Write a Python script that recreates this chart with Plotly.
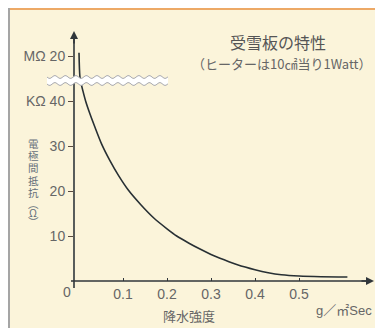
import plotly.graph_objects as go
import numpy as np

# ---------------- data ----------------
# x: precipitation intensity (g/m^2 Sec)
rain_intensity = [0.0, 0.002, 0.005, 0.009, 0.015, 0.025, 0.035, 0.052, 0.07,
                  0.09, 0.112, 0.14, 0.17, 0.20, 0.222, 0.25, 0.275, 0.30,
                  0.33, 0.36, 0.40, 0.43, 0.46, 0.50, 0.55, 0.61]
# y: electrode resistance on the broken axis (values above the break belong to
#    the MΩ part, where 50 corresponds to 20 MΩ; below the break values are kΩ)
resistance_disp = [50.7, 45.5, 43.8, 42.2, 40.0, 37.1, 34.5, 30.3, 26.8,
                   23.4, 20.2, 17.0, 14.0, 11.6, 10.0, 8.4, 7.1, 5.9,
                   4.7, 3.6, 2.5, 1.85, 1.4, 1.1, 0.95, 0.9]

y_tickvals = [10, 20, 30, 40, 50]
y_ticktext = ["10", "20", "30", "K\u03a9\u00a040", "M\u03a9\u00a020"]
x_tickvals = [0.1, 0.2, 0.3, 0.4, 0.5]
x_ticktext = ["0.1", "0.2", "0.3", "0.4", "0.5"]

title_text = "受雪板の特性"
subtitle_text = "（ヒーターは10㎠当り1Watt）"
ytitle_chars = ["電", "極", "間", "抵", "抗", "︵", "Ω", "︶"]
xtitle_text = "降水強度"
xunit_text = "g／㎡Sec"

# ---------------- layout geometry ----------------
# the page body has an 8px margin; the figure therefore starts at (8, 8)
OFF = 8
W, H = 383 - OFF, 328 - OFF
AXIS_X, AXIS_Y, TOP_Y, RIGHT_X = 74, 281, 32, 375
L, T = AXIS_X - OFF, TOP_Y - OFF
R = W - (RIGHT_X - OFF)
B = H - (AXIS_Y - OFF)
PW, PH = W - L - R, H - T - B


def px(xp):
    """reference-image x pixel -> paper coordinate"""
    return (xp - OFF - L) / PW


def py(yp):
    """reference-image y pixel -> paper coordinate"""
    return (AXIS_Y - yp) / PH


FONT = "Liberation Sans, Arial, Noto Sans CJK JP, sans-serif"
CJK = "Noto Sans CJK JP, sans-serif"
AX = "#30363a"
TXT = "#666666"
PANEL = "#FBF4DA"

fig = go.Figure()
fig.add_trace(go.Scatter(
    x=rain_intensity, y=resistance_disp, mode="lines",
    line=dict(color="#283034", width=1.6, shape="spline", smoothing=0.8),
    hoverinfo="skip", showlegend=False))

shapes = []
# panel borders
shapes.append(dict(type="line", xref="paper", yref="paper",
                   x0=px(8), x1=px(384), y0=py(9), y1=py(9),
                   line=dict(color="#EDA966", width=2)))
shapes.append(dict(type="line", xref="paper", yref="paper",
                   x0=px(9), x1=px(9), y0=py(8), y1=py(329),
                   line=dict(color="#a5a5a5", width=2)))
# axis lines
shapes.append(dict(type="line", xref="paper", yref="paper",
                   x0=px(74), x1=px(74), y0=py(288), y1=py(36),
                   line=dict(color=AX, width=1.6)))
shapes.append(dict(type="line", xref="paper", yref="paper",
                   x0=px(71), x1=px(370), y0=py(281), y1=py(281),
                   line=dict(color=AX, width=1.6)))

# wavy axis-break band (decoration)
xs = np.linspace(47, 168, 122)
top = 77 + 1.4 * np.sin(2 * np.pi * (xs - 47) / 10.5)
bot = 84 + 1.4 * np.sin(2 * np.pi * (xs - 47) / 10.5)
band = "M " + " L ".join(f"{px(a):.5f},{py(b):.5f}" for a, b in zip(xs, top))
band += " L " + " L ".join(f"{px(a):.5f},{py(b):.5f}" for a, b in zip(xs[::-1], bot[::-1])) + " Z"
shapes.append(dict(type="path", xref="paper", yref="paper", path=band,
                   fillcolor="#FFFFFF", line=dict(width=0)))
for edge in (top, bot):
    p = "M " + " L ".join(f"{px(a):.5f},{py(b):.5f}" for a, b in zip(xs, edge))
    shapes.append(dict(type="path", xref="paper", yref="paper", path=p,
                       line=dict(color="#a9aab0", width=1)))


def label(x, y, text, size, color=TXT, family=CJK):
    return dict(xref="paper", yref="paper", x=px(x), y=py(y), text=text,
                showarrow=False, xanchor="center", yanchor="middle",
                font=dict(family=family, size=size, color=color))


annotations = []
# arrowheads
annotations.append(dict(xref="paper", yref="paper", x=px(74), y=py(31), text="",
                        showarrow=True, ax=0, ay=14, arrowhead=2, arrowsize=1,
                        arrowwidth=1.6, arrowcolor=AX))
annotations.append(dict(xref="paper", yref="paper", x=px(374), y=py(281), text="",
                        showarrow=True, ax=-14, ay=0, arrowhead=2, arrowsize=1,
                        arrowwidth=1.6, arrowcolor=AX))
# titles
annotations.append(label(278, 42, title_text, 16, "#555555"))
annotations.append(label(281, 63, subtitle_text, 13))
# vertical (upright, stacked) y-axis title
ypos = [143, 155, 167.5, 180, 192.5, 203, 212.5, 222]
for ch, yy in zip(ytitle_chars, ypos):
    annotations.append(label(33, yy, ch, 10.5, "#66707a"))
annotations.append(label(189, 315, xtitle_text, 13))
annotations.append(label(344, 310, xunit_text, 13, family=FONT))
annotations.append(label(67, 292, "0", 14, family=FONT))

x0 = (AXIS_X - 79) / 440
x1 = (RIGHT_X - 79) / 440
fig.update_layout(
    width=W, height=H,
    margin=dict(l=L, r=R, t=T, b=B),
    paper_bgcolor=PANEL, plot_bgcolor="rgba(0,0,0,0)",
    shapes=shapes, annotations=annotations,
    xaxis=dict(range=[x0, x1], showgrid=False, zeroline=False, showline=False,
               tickmode="array", tickvals=x_tickvals, ticktext=x_ticktext,
               ticks="inside", ticklen=3, tickwidth=1.4, tickcolor=AX,
               ticklabelstandoff=3,
               tickfont=dict(family=FONT, size=14, color=TXT)),
    yaxis=dict(range=[0, (AXIS_Y - TOP_Y) / 4.5], showgrid=False, zeroline=False,
               showline=False,
               tickmode="array", tickvals=y_tickvals, ticktext=y_ticktext,
               ticks="outside", ticklen=5, tickwidth=1.4, tickcolor="#5a4a40",
               tickfont=dict(family=FONT, size=14, color=TXT)),
)

fig.write_html("out.html")
